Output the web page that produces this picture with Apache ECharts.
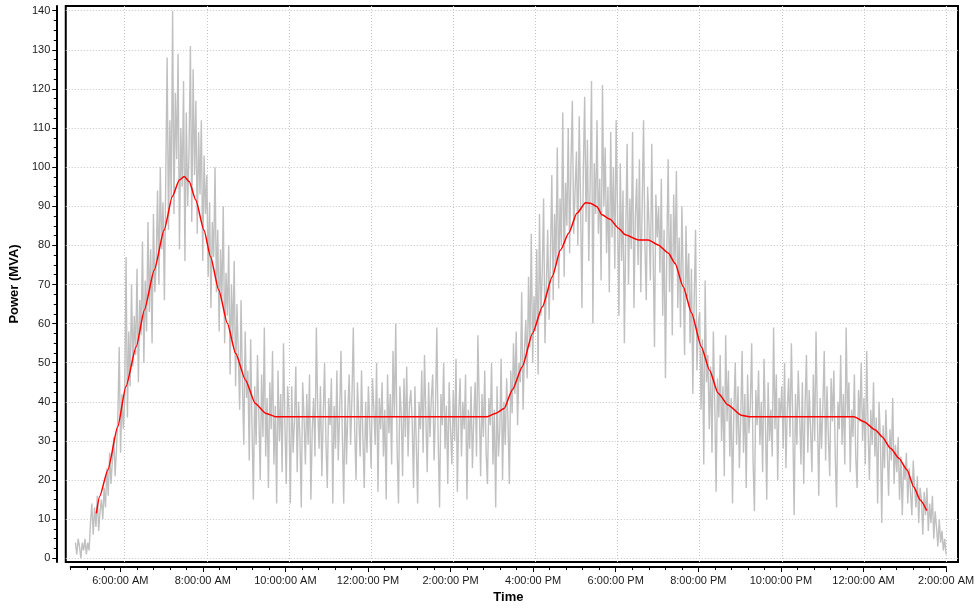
<!DOCTYPE html>
<html>
<head>
<meta charset="utf-8">
<script src="https://cdn.jsdelivr.net/npm/echarts@6/dist/echarts.min.js"></script>
<style>
  html, body { margin: 0; padding: 0; background: #fff; }
  #chart { width: 978px; height: 609px; }
</style>
</head>
<body>
<div id="chart"></div>
<script>
// Feeder load in MVA, one sample every 2 minutes.
// Time is expressed in hours from midnight of the first day (24+ = next day).
const SAMPLE_HOURS = 2 / 60;

const load0448 = [4, 1, 5, 3, 0, 4];
const load05 = [2, 5, 1, 4, 2,  9, 14, 6, 13, 8, 16, 7, 12, 15, 10,
  18, 13, 23, 16, 27, 19, 25, 31, 21, 28,  36, 54, 27, 42, 33];
const load06 = [40, 77, 36, 58, 44, 70, 49, 62,  52, 74, 45, 66, 57, 81, 50,
  71, 58, 86, 63, 79, 55, 88, 68,  75, 94, 70, 100, 79, 91, 66];
const load07 = [97, 128, 84, 112, 92, 140, 88, 119,  102, 129, 79, 110, 95, 122, 76,
  114, 90, 104, 131, 86, 125, 98, 117,  83, 109, 93, 112, 76, 103, 88];
const load08 = [98, 72, 91, 64, 86, 77, 100, 68,  84, 58, 79, 66, 90, 55, 73,
  62, 80, 47, 70, 56, 76, 44, 65,  52, 38, 66, 45, 29, 58, 41];
const load09 = [48, 25, 56, 34, 15, 44, 29, 52,  37, 20, 47, 31, 59, 26, 41,
  18, 45, 33, 53, 24, 39, 14, 48,  30, 42, 22, 55, 35, 19, 44];
const load10 = [38, 14, 44, 27, 35, 49, 22, 40,  31, 13, 45, 36, 24, 42, 29,
  47, 15, 33, 41, 26, 59, 38, 28,  44, 21, 36, 50, 30, 18, 41];
const load11 = [34, 46, 14, 39, 28, 48, 25, 37,  53, 31, 14, 43, 24, 38, 47,
  29, 41, 59, 33, 20, 45, 36, 26,  48, 31, 18, 40, 27, 44, 35];
const load12 = [23, 46, 38, 29, 50, 17, 41, 33,  45, 26, 38, 15, 47, 32, 42,
  24, 53, 36, 60, 28, 14, 44, 37,  21, 46, 31, 49, 26, 39, 43];
const load13 = [35, 18, 44, 29, 14, 40, 33, 48,  27, 52, 36, 22, 45, 31, 41,
  47, 25, 38, 59, 30, 13, 42, 34,  50, 28, 39, 19, 45, 33, 24];
const load14 = [43, 30, 51, 17, 37, 46, 26, 40,  33, 47, 15, 38, 28, 44, 23,
  36, 45, 26, 57, 39, 21, 42, 31,  48, 27, 19, 41, 34, 50, 24];
const load15 = [38, 13, 44, 26, 33, 51, 20, 40,  29, 46, 35, 19, 48, 37, 55,
  42, 58, 34, 50, 45, 68, 38, 53,  61, 46, 72, 54, 83, 50, 67];
const load16 = [58, 79, 47, 88, 62, 73, 92, 55,  70, 84, 61, 77, 98, 66, 88,
  75, 105, 69, 92, 80, 114, 72, 96,  85, 110, 78, 101, 117, 83, 94];
const load17 = [104, 80, 113, 91, 64, 99, 118, 86,  107, 76, 96, 122, 60, 101, 88,
  112, 83, 97, 71, 121, 90, 105, 78,  95, 68, 109, 82, 100, 74, 112];
const load18 = [88, 62, 101, 76, 94, 55, 83, 106,  70, 92, 79, 109, 64, 87, 97,
  75, 102, 68, 90, 112, 80, 66, 95,  85, 71, 106, 78, 54, 93, 82];
const load19 = [90, 73, 97, 62, 84, 46, 79, 102,  68, 88, 57, 93, 75, 99, 64,
  82, 59, 90, 71, 52, 85, 67, 78,  55, 74, 42, 66, 84, 48, 60];
const load20 = [63, 38, 56, 24, 71, 45, 52, 33,  49, 27, 58, 40, 17, 46, 36,
  52, 30, 44, 21, 57, 35, 48, 26,  41, 14, 38, 50, 29, 44, 23];
const load21 = [36, 53, 27, 42, 18, 47, 32, 39,  55, 25, 12, 43, 34, 48, 29,
  40, 22, 51, 35, 15, 45, 30, 38,  26, 59, 33, 47, 20, 41, 36];
const load22 = [44, 28, 50, 23, 38, 46, 31, 55,  35, 11, 42, 29, 48, 37, 24,
  45, 19, 39, 52, 27, 43, 33, 22,  47, 30, 58, 36, 16, 41, 28];
const load23 = [39, 53, 25, 44, 31, 21, 46, 35,  48, 27, 13, 40, 33, 52, 29,
  42, 24, 59, 36, 45, 22, 38, 31,  47, 26, 18, 43, 35, 50, 30];
const load00 = [41, 24, 53, 33, 20, 38, 29, 45,  26, 36, 14, 40, 31, 9, 34,
  23, 38, 28, 16, 33, 25, 41, 19,  29, 22, 31, 15, 26, 11, 24];
const load01 = [20, 27, 14, 23, 17, 11, 25, 18,  13, 21, 9, 18, 15, 6, 17,
  11, 18, 7, 14, 9, 16, 5, 12,  8, 3, 10, 4, 7, 2, 5];
const load0200 = [1];

const loadBlockStarts = [4.8, 5, 6, 7, 8, 9, 10, 11, 12, 13, 14, 15, 16, 17, 18, 19,
  20, 21, 22, 23, 24, 25, 26];
const loadBlocks = [load0448, load05, load06, load07, load08, load09, load10, load11,
  load12, load13, load14, load15, load16, load17, load18, load19, load20, load21,
  load22, load23, load00, load01, load0200];

// Smoothed load trend (red curve)
const trendHours = [5.31, 5.39, 5.59, 5.83, 6.03, 6.28, 6.48, 6.72, 6.96, 7.16, 7.33, 7.45, 7.57, 7.73,
  7.93, 8.09, 8.29, 8.50, 8.70, 8.94, 9.18, 9.43, 9.67, 14.83, 15.04, 15.24, 15.44, 15.68, 15.93,
  16.17, 16.41, 16.61, 16.81, 17.01, 17.22, 17.34, 17.50, 17.62, 17.82, 18.02, 18.19, 18.51, 18.75,
  18.99, 19.24, 19.40, 19.60, 19.80, 20.04, 20.24, 20.45, 20.69, 21.01, 21.21, 23.76, 24.00, 24.28,
  24.44, 24.65, 24.85, 25.05, 25.21, 25.37, 25.53];
const trendMVA = [11.5, 15.8, 22.6, 33.6, 43.9, 54.1, 63.5, 73.7, 83.9, 92.5, 96.7, 97.6, 96.3, 91.6,
  83.9, 77.1, 68.6, 60.1, 52.4, 45.6, 39.6, 37.1, 36.2, 36.2, 37.1, 38.3, 43.1, 49.0, 57.5,
  64.3, 72.0, 78.8, 83.1, 88.2, 90.9, 90.8, 89.9, 87.8, 86.7, 84.4, 82.7, 81.4, 81.4,
  80.1, 78.0, 75.4, 69.4, 62.8, 54.1, 48.1, 42.2, 39.2, 36.6, 36.2, 36.2, 34.9, 32.8,
  31.1, 28.1, 25.6, 22.6, 18.3, 14.9, 12.2];

// Axis ticks
const yTickValues = [0, 10, 20, 30, 40, 50, 60, 70, 80, 90, 100, 110, 120, 130, 140];
const xTickHours = [6, 8, 10, 12, 14, 16, 18, 20, 22, 24, 26];

// ---- build series data ----
const loadData = [];
loadBlocks.forEach((block, b) => {
  block.forEach((v, i) => {
    loadData.push([+(loadBlockStarts[b] + i * SAMPLE_HOURS).toFixed(4), v]);
  });
});
const trendData = trendHours.map((h, i) => [h, trendMVA[i]]);

// ---- layout ----
const X_START = 4.8, X_END = 26;        // time axis span (4:48 AM .. 2:00 AM)
const X_PAD_L = 0.235, X_PAD_R = 0.29;  // plot frame margin around the time span
const Y_MIN = -0.95, Y_MAX = 141.2;     // plot frame margin around 0..140
const BOX = { left: 61, top: 6, width: 897, height: 556 };
const pxPerHour = BOX.width / ((X_END + X_PAD_R) - (X_START - X_PAD_L));
const axisGrid = {
  left: BOX.left + X_PAD_L * pxPerHour,
  top: BOX.top,
  width: (X_END - X_START) * pxPerHour,
  height: BOX.height
};

function timeLabel(h) {
  const hh = Math.round(h) % 24;
  const h12 = hh % 12 === 0 ? 12 : hh % 12;
  return h12 + ':00:00 ' + (hh < 12 ? 'AM' : 'PM');
}

const FONT = 'Liberation Sans, Arial, sans-serif';
const gridLine = { show: true, lineStyle: { color: '#c4c4c4', type: [1, 2], width: 1 } };

const chart = echarts.init(document.getElementById('chart'), null, { renderer: 'canvas' });
chart.setOption({
  animation: false,
  backgroundColor: '#ffffff',
  grid: [
    Object.assign({ show: true, borderColor: '#000', borderWidth: 2, backgroundColor: '#fff' }, BOX),
    Object.assign({ show: false }, axisGrid)
  ],
  xAxis: [
    {
      gridIndex: 0, type: 'value', min: X_START - X_PAD_L, max: X_END + X_PAD_R,
      minInterval: 2, maxInterval: 2,
      axisLine: { show: false }, axisLabel: { show: false },
      axisTick: { show: false, customValues: xTickHours },
      splitLine: gridLine
    },
    {
      gridIndex: 1, type: 'value', min: X_START - 0.001, max: X_END,
      minInterval: 2, maxInterval: 2,
      position: 'bottom', offset: 7,
      axisLine: { show: true, onZero: false, lineStyle: { color: '#000', width: 2 } },
      axisTick: { show: true, length: 5, customValues: xTickHours, lineStyle: { color: '#000', width: 1 } },
      minorTick: { show: true, splitNumber: 5, length: 3, lineStyle: { color: '#000', width: 1 } },
      axisLabel: {
        show: true, customValues: xTickHours, margin: 8,
        fontFamily: FONT, fontSize: 11, color: '#1a1a1a',
        formatter: timeLabel
      },
      splitLine: { show: false },
      name: 'Time', nameLocation: 'middle', nameGap: 23,
      nameTextStyle: { fontFamily: FONT, fontSize: 13, fontWeight: 'bold', color: '#000' }
    }
  ],
  yAxis: [
    {
      gridIndex: 0, type: 'value', min: Y_MIN, max: Y_MAX,
      minInterval: 10, maxInterval: 10,
      position: 'left', offset: 9.5,
      axisLine: { show: true, onZero: false, lineStyle: { color: '#000', width: 2 } },
      axisTick: { show: true, length: 4, customValues: yTickValues, lineStyle: { color: '#000', width: 1 } },
      minorTick: { show: true, splitNumber: 4, length: 2.5, lineStyle: { color: '#000', width: 1 } },
      axisLabel: {
        show: true, customValues: yTickValues, margin: 6,
        fontFamily: FONT, fontSize: 11, color: '#1a1a1a'
      },
      splitLine: gridLine,
      name: 'Power (MVA)', nameLocation: 'middle', nameGap: 31, nameRotate: 90,
      nameTextStyle: { fontFamily: FONT, fontSize: 13, fontWeight: 'bold', color: '#000' }
    },
    {
      gridIndex: 1, type: 'value', min: Y_MIN, max: Y_MAX, show: false
    }
  ],
  series: [
    {
      name: 'Load', type: 'line', xAxisIndex: 0, yAxisIndex: 0,
      data: loadData, showSymbol: false, symbol: 'none',
      lineStyle: { color: '#c0c0c0', width: 1.4 }, z: 2
    },
    {
      name: 'Trend', type: 'line', xAxisIndex: 0, yAxisIndex: 0,
      data: trendData, showSymbol: false, symbol: 'none',
      smooth: 0.2, smoothMonotone: 'x',
      lineStyle: { color: '#ff0000', width: 1.5 }, z: 3
    }
  ]
});
</script>
</body>
</html>
